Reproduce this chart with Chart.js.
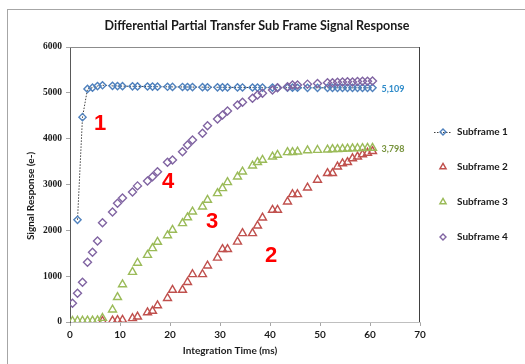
<!DOCTYPE html>
<html>
<head>
<meta charset="utf-8">
<script src="https://cdn.jsdelivr.net/npm/chart.js@4.4.1/dist/chart.umd.min.js"></script>
<style>
  html, body { margin: 0; padding: 0; background: #fff; overflow: hidden; }
  #wrap { position: relative; width: 525px; height: 364px; }
  #frame { position: absolute; left: 7px; top: 9px; width: 700px; height: 700px; border: 1px solid #a6a6a6; }
  canvas { position: absolute; left: 0; top: 0; }
</style>
</head>
<body>
<div id="wrap">
  <div id="frame"></div>
  <canvas id="c" width="525" height="364"></canvas>
</div>
<script>
// Integration times (ms) shared by all four subframes
const integrationTimes = [0.5, 1.5, 2.5, 3.5, 4.5, 5.5, 6.5, 8.5, 9.5, 10.5, 12.5, 13.5, 15.5, 16.5, 17.5,
  19.5, 20.5, 22.5, 23.5, 24.5, 26.5, 27.5, 29.5, 30.5, 31.5, 33.5, 34.5, 36.5, 37.5, 38.5,
  40.5, 41.5, 43.5, 44.5, 45.5, 47.5, 49.5, 51.5, 52.5, 53.5, 54.5, 55.5, 56.5, 57.5, 58.5, 59.5, 60.5];

// Signal response (e-) per subframe
const subframe1 = [null, 2230, 4470, 5085, 5112, 5148, 5165, 5152, 5148, 5146, 5142, 5140, 5138, 5136, 5135,
  5132, 5130, 5128, 5127, 5125, 5124, 5122, 5120, 5120, 5119, 5118, 5117, 5116, 5115, 5115,
  5114, 5113, 5112, 5112, 5111, 5110, 5110, 5110, 5109, 5110, 5109, 5110, 5109, 5110, 5109, 5110, 5109];
const subframe2 = [null, null, null, null, null, null, 20, 30, 40, 45, 80, 115, 210, 240, 360,
  520, 698, 698, 870, 1040, 1040, 1230, 1400, 1590, 1590, 1750, 1935, 1935, 2100, 2275,
  2445, 2445, 2625, 2785, 2785, 2930, 3100, 3245, 3245, 3390, 3460, 3485, 3570, 3605, 3655, 3690, 3725];
const subframe3 = [20, 25, 25, 30, 30, 35, 85, 270, 540, 820, 1090, 1290, 1460, 1608, 1745,
  1890, 2007, 2153, 2280, 2407, 2516, 2662, 2808, 2917, 3048, 3170, 3280, 3410, 3485, 3535,
  3607, 3644, 3703, 3703, 3716, 3742, 3751, 3760, 3768, 3771, 3776, 3781, 3784, 3789, 3792, 3795, 3798];
const subframe4 = [408, 626, 866, 1302, 1520, 1767, 2165, 2400, 2590, 2705, 2835, 2970, 3077, 3170, 3280,
  3485, 3535, 3716, 3862, 3971, 4120, 4280, 4429, 4517, 4604, 4735, 4793, 4881, 4953, 4990,
  5062, 5113, 5135, 5171, 5171, 5190, 5205, 5222, 5218, 5231, 5236, 5240, 5238, 5249, 5252, 5255, 5258];

const seriesNames = ['Subframe 1', 'Subframe 2', 'Subframe 3', 'Subframe 4'];
const xTickValues = [0, 10, 20, 30, 40, 50, 60, 70];
const yTickValues = [0, 1000, 2000, 3000, 4000, 5000, 6000];

// Curve callouts placed in data space
const callouts = [
  { text: '1', x: 6.0, y: 4320 },
  { text: '4', x: 19.6, y: 3055 },
  { text: '3', x: 28.4, y: 2182 },
  { text: '2', x: 40.2, y: 1440 }
];

const BLUE = '#4F81BD', RED = '#C0504D', GREEN = '#9BBB59', PURPLE = '#8064A2';

function toPoints(ys) {
  return integrationTimes.map((x, i) => ({ x, y: ys[i] }));
}

const datasets = [
  { label: seriesNames[0], data: toPoints(subframe1), showLine: true, borderColor: '#404040', borderWidth: 1,
    borderDash: [1.5, 1.5], pointStyle: 'rectRot', pointRadius: 3.6, pointBorderColor: BLUE,
    pointBackgroundColor: 'rgba(0,0,0,0)', pointBorderWidth: 1.4, order: 4, spanGaps: true },
  { label: seriesNames[1], data: toPoints(subframe2), showLine: false, pointStyle: 'triangle', pointRadius: 4.6,
    pointBorderColor: RED, pointBackgroundColor: 'rgba(0,0,0,0)', pointBorderWidth: 1.4, order: 3 },
  { label: seriesNames[2], data: toPoints(subframe3), showLine: false, pointStyle: 'triangle', pointRadius: 4.6,
    pointBorderColor: GREEN, pointBackgroundColor: 'rgba(0,0,0,0)', pointBorderWidth: 1.4, order: 2 },
  { label: seriesNames[3], data: toPoints(subframe4), showLine: false, pointStyle: 'rectRot', pointRadius: 4,
    pointBorderColor: PURPLE, pointBackgroundColor: 'rgba(0,0,0,0)', pointBorderWidth: 1.4, order: 1 }
];

const SANS = 'Lato, "Liberation Sans", sans-serif';

const decor = {
  id: 'decor',
  beforeDatasetsDraw(chart) {
    const { ctx, chartArea: a } = chart;
    ctx.save();
    ctx.lineWidth = 1;
    ctx.strokeStyle = '#8c8c8c';
    ctx.beginPath(); ctx.moveTo(a.left, a.top + 0.5); ctx.lineTo(a.right, a.top + 0.5); ctx.stroke();
    ctx.strokeStyle = '#404040';
    ctx.beginPath(); ctx.moveTo(a.right - 0.5, a.top); ctx.lineTo(a.right - 0.5, a.bottom); ctx.stroke();
    ctx.restore();
  },
  afterDraw(chart) {
    const { ctx, chartArea: a, scales } = chart;
    ctx.save();

    // chart title
    ctx.fillStyle = '#1a1a1a';
    ctx.textAlign = 'center';
    ctx.textBaseline = 'middle';
    ctx.font = 'bold 12.5px ' + SANS;
    ctx.fillText('Differential Partial Transfer Sub Frame Signal Response', 257, 26);

    // axis titles
    ctx.font = 'bold 10px ' + SANS;
    ctx.fillText('Integration Time (ms)', 230, 351);
    ctx.save();
    ctx.translate(31, 196);
    ctx.rotate(-Math.PI / 2);
    ctx.fillText('Signal Response (e-)', 0, 0);
    ctx.restore();

    // curve callouts
    ctx.fillStyle = '#FF0000';
    ctx.font = 'bold 22px "Liberation Sans", Arial, sans-serif';
    callouts.forEach(c => {
      ctx.fillText(c.text, scales.x.getPixelForValue(c.x), scales.y.getPixelForValue(c.y));
    });

    // end-value labels for subframes 1 and 3
    ctx.textAlign = 'left';
    ctx.font = 'bold 9px ' + SANS;
    [[0, '#2E8BC9'], [2, '#77933C']].forEach(([i, color]) => {
      const meta = chart.getDatasetMeta(i);
      const pts = meta.data;
      const last = pts[pts.length - 1];
      const vals = chart.data.datasets[i].data;
      const v = vals[vals.length - 1].y;
      ctx.fillStyle = color;
      ctx.fillText(v.toLocaleString('en-US'), last.x + 9, last.y + 1);
    });

    // legend
    const legendY = [132, 167, 202, 237];
    const styles = [
      { pointStyle: 'rectRot', radius: 3, color: BLUE, line: true },
      { pointStyle: 'triangle', radius: 3.6, color: RED },
      { pointStyle: 'triangle', radius: 3.6, color: GREEN },
      { pointStyle: 'rectRot', radius: 3, color: PURPLE }
    ];
    styles.forEach((s, i) => {
      const y = legendY[i];
      if (s.line) {
        ctx.save();
        ctx.strokeStyle = '#404040';
        ctx.lineWidth = 1;
        ctx.setLineDash([1.5, 1.5]);
        ctx.beginPath(); ctx.moveTo(434, y + 0.5); ctx.lineTo(452, y + 0.5); ctx.stroke();
        ctx.restore();
      }
      ctx.save();
      ctx.strokeStyle = s.color;
      ctx.fillStyle = 'rgba(0,0,0,0)';
      ctx.lineWidth = 1.4;
      Chart.helpers.drawPoint(ctx, { pointStyle: s.pointStyle, radius: s.radius, rotation: 0, borderWidth: 1.4 }, 443, y);
      ctx.restore();
      ctx.fillStyle = '#1a1a1a';
      ctx.font = 'bold 10px ' + SANS;
      ctx.textAlign = 'left';
      ctx.textBaseline = 'middle';
      ctx.fillText(seriesNames[i], 457, y);
    });

    ctx.restore();
  }
};

new Chart(document.getElementById('c'), {
  type: 'scatter',
  data: { datasets },
  plugins: [decor],
  options: {
    responsive: false,
    animation: false,
    devicePixelRatio: 1,
    layout: { padding: { left: 0, top: 47, right: 105, bottom: 0 } },
    plugins: { legend: { display: false }, title: { display: false }, tooltip: { enabled: false } },
    scales: {
      x: {
        type: 'linear', min: 0, max: 70,
        afterFit: s => { s.height = 42; },
        afterBuildTicks: s => { s.ticks = xTickValues.map(v => ({ value: v })); },
        grid: { drawOnChartArea: false, drawTicks: true, tickLength: 4, color: '#a6a6a6' },
        border: { display: true, color: '#bfbfbf', width: 1 },
        ticks: { padding: 3, color: '#1a1a1a', font: { family: SANS, size: 10, weight: 'bold' },
          callback: v => String(v), maxRotation: 0 }
      },
      y: {
        type: 'linear', min: 0, max: 6000,
        afterFit: s => { s.width = 70; },
        afterBuildTicks: s => { s.ticks = yTickValues.map(v => ({ value: v })); },
        grid: { drawOnChartArea: false, drawTicks: true, tickLength: 4, color: '#a6a6a6' },
        border: { display: true, color: '#595959', width: 1 },
        ticks: { padding: 4, color: '#1a1a1a', font: { family: '"Liberation Serif", serif', size: 9.5, weight: 'bold' },
          callback: v => String(v) }
      }
    }
  }
});
</script>
</body>
</html>
